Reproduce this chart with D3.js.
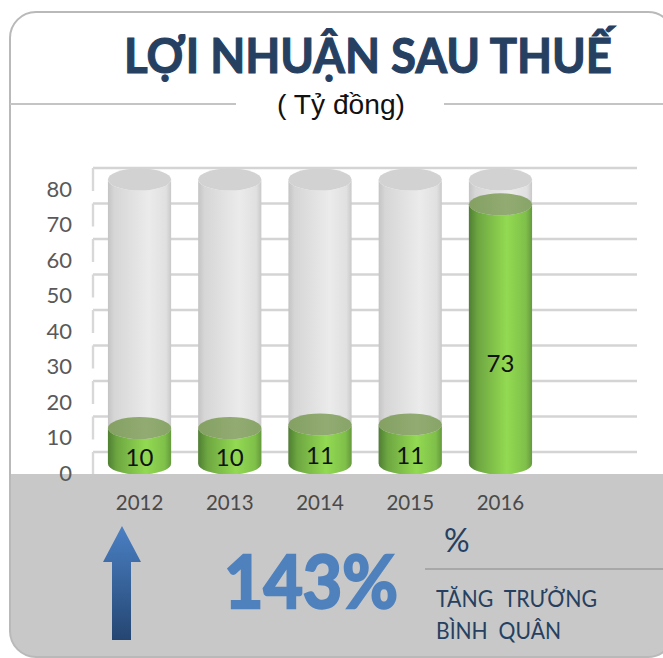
<!DOCTYPE html>
<html><head><meta charset="utf-8">
<script src="https://cdn.jsdelivr.net/npm/d3@7/dist/d3.min.js"></script>
<style>html,body{margin:0;padding:0;background:#fff}svg{display:block}</style></head>
<body><div id="c"></div>
<script>
const years = ["2012","2013","2014","2015","2016"];
const profit = [10,10,11,11,73];
const axisMax = 80;
const yTicks = [0,10,20,30,40,50,60,70,80];
const titleText = "LỢI NHUẬN SAU THUẾ";
const unitText = "( Tỷ đồng)";
const growthText = "143%";
const growthLines = ["TĂNG TRƯỞNG","BÌNH QUÂN"];

const W=663,H=658;
const svg=d3.select("#c").append("svg").attr("width",W).attr("height",H);
const defs=svg.append("defs");
function grad(id,stops,vertical){
  const g=defs.append("linearGradient").attr("id",id).attr("x1",0).attr("y1",0)
    .attr("x2",vertical?0:1).attr("y2",vertical?1:0);
  stops.forEach(s=>g.append("stop").attr("offset",s[0]).attr("stop-color",s[1]));
}
grad("gray",[[0,"#c4c4c4"],[.1,"#d6d6d6"],[.65,"#ebebeb"],[.92,"#e0e0e0"],[1,"#c9c9c9"]]);
grad("green",[[0,"#4f7f32"],[.14,"#6da641"],[.6,"#93da52"],[.9,"#7fc04a"],[1,"#659a3c"]]);
grad("gtop",[[0,"#84a062"],[.6,"#92ab72"],[1,"#88a468"]]);
grad("arrow",[[0,"#4a80c4"],[1,"#254672"]],true);
defs.append("filter").attr("id","soft").append("feGaussianBlur").attr("stdDeviation",.6);
defs.append("clipPath").attr("id","panel").append("rect")
  .attr("x",10).attr("y",12).attr("width",664).attr("height",645).attr("rx",26);

const y=d3.scaleLinear().domain([0,axisMax]).range([463.5,179.5]);
const x=d3.scaleBand().domain(years).range([93.5,546.5]).paddingInner(.3).paddingOuter(.16);
const wallDy=-11.5, labelDy=9.5, ry=11;

svg.append("rect").attr("x",10).attr("y",12).attr("width",664).attr("height",645).attr("rx",26)
  .attr("fill","#fff");

const wall=svg.append("g").attr("transform",`translate(0,${wallDy})`).attr("filter","url(#soft)");
wall.selectAll("line.g").data(yTicks).join("line").attr("class","g")
  .attr("x1",93).attr("x2",637).attr("y1",d=>y(d)).attr("y2",d=>y(d))
  .attr("stroke","#d4d4d4").attr("stroke-width",2.4);
wall.selectAll("line.v").data(yTicks).join("line").attr("class","v")
  .attr("x1",93).attr("x2",93).attr("y1",d=>y(d)).attr("y2",d=>y(d)+23)
  .attr("stroke","#d8d8d8").attr("stroke-width",2.4);

function body(left,w,yTop,yBot){
  return `M${left},${yTop}L${left},${yBot}A${w/2},${ry} 0 0 0 ${left+w},${yBot}L${left+w},${yTop}A${w/2},${ry} 0 0 1 ${left},${yTop}Z`;
}
const bw=x.bandwidth();
const bars=svg.append("g").attr("filter","url(#soft)");
bars.selectAll("path.track").data(years).join("path").attr("class","track")
  .attr("d",d=>body(x(d),bw,y(axisMax),y(0))).attr("fill","url(#gray)");
bars.selectAll("ellipse.tt").data(years).join("ellipse").attr("class","tt")
  .attr("cx",d=>x(d)+bw/2).attr("cy",y(axisMax)).attr("rx",bw/2).attr("ry",ry).attr("fill","#d2d2d2");
bars.selectAll("path.val").data(profit).join("path").attr("class","val")
  .attr("d",(d,i)=>body(x(years[i]),bw,y(d),y(0))).attr("fill","url(#green)");
bars.selectAll("ellipse.vt").data(profit).join("ellipse").attr("class","vt")
  .attr("cx",(d,i)=>x(years[i])+bw/2).attr("cy",d=>y(d)).attr("rx",bw/2).attr("ry",ry).attr("fill","url(#gtop)");

svg.selectAll("text.dl").data(profit).join("text").attr("class","dl")
  .attr("x",(d,i)=>x(years[i])+bw/2)
  .attr("y",d=>y(d/2)+(d>50?38.5:20.5))
  .attr("text-anchor","middle").attr("font-family","Lato").attr("font-size",24).attr("fill","#111")
  .text(d=>d);

svg.append("g").attr("clip-path","url(#panel)").append("rect")
  .attr("x",0).attr("y",474).attr("width",W).attr("height",H-474).attr("fill","#c8c8c8");
svg.append("rect").attr("x",10).attr("y",12).attr("width",664).attr("height",645).attr("rx",26)
  .attr("fill","none").attr("stroke","#b9b9b9").attr("stroke-width",2);

const yAxis=svg.append("g").attr("transform",`translate(72,${labelDy})`)
  .call(d3.axisLeft(y).tickValues(yTicks).tickSize(0).tickPadding(0));
yAxis.select(".domain").remove();
yAxis.selectAll("text").attr("font-family","Lato").attr("font-size",22).attr("fill","#595959");
const xAxis=svg.append("g").attr("transform","translate(0,495.5)")
  .call(d3.axisBottom(x).tickSize(0).tickPadding(0));
xAxis.select(".domain").remove();
xAxis.selectAll("text").attr("font-family","Lato").attr("font-size",20.5).attr("fill","#4a4a4a").attr("dy","0.71em");

svg.append("text").attr("x",124).attr("y",73).attr("font-family","Lato").attr("font-weight",700)
  .attr("font-size",48).attr("fill","#254061").attr("stroke","#254061").attr("stroke-width",1.1)
  .attr("textLength",488).attr("lengthAdjust","spacingAndGlyphs").text(titleText);
svg.append("text").attr("x",277).attr("y",114).attr("font-family","Liberation Sans")
  .attr("font-size",28).attr("fill","#111").attr("textLength",128).attr("lengthAdjust","spacingAndGlyphs").text(unitText);
[[10,236],[444,663]].forEach(s=>svg.append("line").attr("x1",s[0]).attr("x2",s[1]).attr("y1",104).attr("y2",104)
  .attr("stroke","#c4c4c4").attr("stroke-width",2));

svg.append("path").attr("fill","url(#arrow)")
  .attr("d",d3.line()([[122,526],[141,562],[131,562],[131,640],[112,640],[112,562],[103,562]])+"Z");
svg.append("text").attr("x",224).attr("y",608).attr("font-family","Lato").attr("font-weight",700)
  .attr("font-size",72).attr("fill","#4f81bd").attr("stroke","#4f81bd").attr("stroke-width",2.4)
  .attr("textLength",174).attr("lengthAdjust","spacingAndGlyphs").text(growthText);
svg.append("text").attr("x",444).attr("y",552).attr("font-family","Lato")
  .attr("font-size",32).attr("fill","#254061").text("%");
svg.append("line").attr("x1",425).attr("x2",663).attr("y1",569).attr("y2",569).attr("stroke","#a8a8a8").attr("stroke-width",2);
svg.selectAll("text.gl").data(growthLines).join("text").attr("class","gl")
  .attr("x",436).attr("y",(d,i)=>i?639:607).attr("font-family","Lato").attr("font-size",23).attr("fill","#254061")
  .attr("word-spacing",6).attr("textLength",(d,i)=>i?125:161).attr("lengthAdjust","spacingAndGlyphs").text(d=>d);
</script></body></html>
